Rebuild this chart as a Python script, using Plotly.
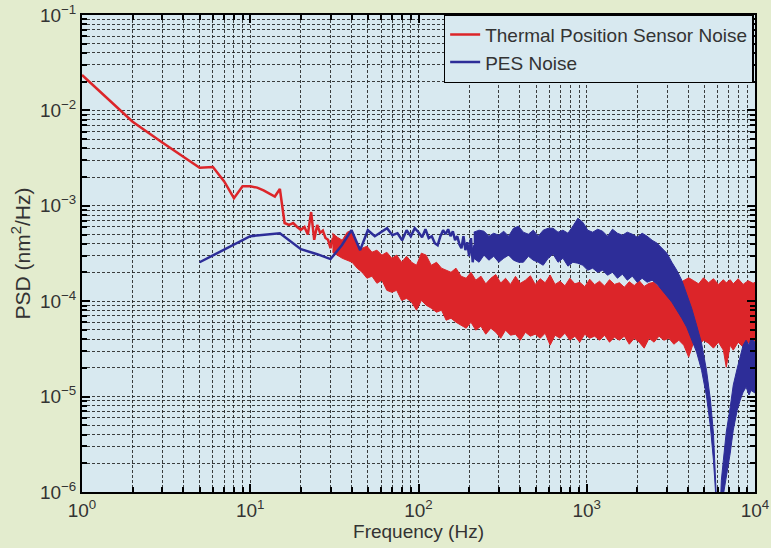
import plotly.graph_objects as go

# ---- Thermal position sensor noise: low-frequency trace (1 Hz bins) ----
red_f = list(range(1, 35))
red_psd = [2.35e-2, 7.6e-3, 4.6e-3, 3.3e-3, 2.5e-3, 2.55e-3, 1.8e-3, 1.2e-3,
           1.6e-3, 1.6e-3, 1.55e-3, 1.45e-3, 1.35e-3, 1.25e-3, 1.5e-3, 6.6e-4,
           6.3e-4, 6.6e-4, 6.0e-4, 5.6e-4, 6.0e-4, 5.0e-4, 8.6e-4, 4.4e-4,
           6.3e-4, 5.2e-4, 5.5e-4, 4.6e-4, 4.4e-4, 3.6e-4, 4.6e-4, 3.7e-4,
           4.2e-4, 3.5e-4]

# ---- Thermal noise, dense part: upper / lower envelope of the spectrum ----
red_band_f = [30.8, 32.9, 35.2, 37.7, 40.3, 43.2, 46.2, 49.4, 52.9, 56.6,
              60.6, 64.8, 69.4, 74.2, 79.4, 85, 91, 97.3, 104, 111,
              119, 128, 137, 146, 156, 167, 179, 192, 205, 219,
              235, 251, 269, 288, 308, 329, 352, 377, 403, 432,
              462, 494, 529, 566, 606, 648, 694, 742, 794, 850,
              909, 973, 1041, 1114, 1192, 1276, 1365, 1461, 1563, 1673,
              1790, 1916, 2050, 2194, 2348, 2512, 2688, 2876, 3078, 3294,
              3525, 3772, 4036, 4319, 4622, 4946, 5293, 5664, 6061, 6486,
              6748, 7123, 7426, 7943, 8498, 9102, 9740, 10000]
red_band_hi = [5.16e-4, 4.69e-4, 4.36e-4, 5.29e-4, 5.55e-4, 3.86e-4, 3.59e-4, 3.77e-4, 3.26e-4, 3.43e-4,
               3.04e-4, 3.26e-4, 2.82e-4, 3.04e-4, 2.56e-4, 2.96e-4, 2.56e-4, 2.38e-4, 3.19e-4, 3.04e-4,
               2.38e-4, 2.56e-4, 2.22e-4, 2.11e-4, 2.01e-4, 2.22e-4, 1.83e-4, 1.74e-4, 2.01e-4, 1.66e-4,
               1.83e-4, 1.52e-4, 1.74e-4, 1.90e-4, 1.55e-4, 1.74e-4, 1.50e-4, 1.82e-4, 1.54e-4, 1.66e-4,
               1.85e-4, 1.50e-4, 1.72e-4, 1.56e-4, 1.88e-4, 1.50e-4, 1.62e-4, 1.45e-4, 1.74e-4, 1.52e-4,
               1.58e-4, 1.42e-4, 1.70e-4, 1.49e-4, 1.62e-4, 1.44e-4, 1.68e-4, 1.50e-4, 1.56e-4, 1.40e-4,
               1.60e-4, 1.46e-4, 1.64e-4, 1.43e-4, 1.54e-4, 1.58e-4, 1.40e-4, 1.47e-4, 1.54e-4, 1.44e-4,
               1.54e-4, 1.66e-4, 1.76e-4, 1.64e-4, 1.52e-4, 1.76e-4, 1.56e-4, 1.72e-4, 1.50e-4, 1.68e-4,
               1.56e-4, 1.68e-4, 1.52e-4, 1.72e-4, 1.50e-4, 1.64e-4, 1.54e-4, 1.58e-4]
red_band_lo = [3.26e-4, 3.04e-4, 2.82e-4, 2.69e-4, 2.56e-4, 2.22e-4, 2.01e-4, 1.74e-4, 1.83e-4, 1.54e-4,
               1.66e-4, 1.30e-4, 1.24e-4, 1.30e-4, 1.02e-4, 1.07e-4, 9.76e-5, 8.05e-5, 1.02e-4, 9.08e-5,
               8.45e-5, 7.67e-5, 8.05e-5, 6.32e-5, 6.63e-5, 6.02e-5, 5.60e-5, 5.21e-5, 6.02e-5, 4.97e-5,
               5.47e-5, 4.51e-5, 5.21e-5, 4.73e-5, 4.09e-5, 4.97e-5, 4.40e-5, 4.51e-5, 3.90e-5, 4.73e-5,
               4.30e-5, 4.51e-5, 4.09e-5, 4.62e-5, 3.46e-5, 4.40e-5, 4.09e-5, 4.62e-5, 3.90e-5, 4.30e-5,
               3.72e-5, 4.51e-5, 4.09e-5, 4.30e-5, 3.90e-5, 4.40e-5, 3.72e-5, 4.19e-5, 3.90e-5, 4.30e-5,
               3.54e-5, 4.09e-5, 3.72e-5, 3.22e-5, 4.09e-5, 3.72e-5, 4.30e-5, 3.90e-5, 4.09e-5, 3.54e-5,
               3.90e-5, 3.46e-5, 2.59e-5, 3.72e-5, 3.46e-5, 3.90e-5, 3.63e-5, 3.22e-5, 3.72e-5, 3.07e-5,
               2.03e-5, 3.46e-5, 3.07e-5, 3.72e-5, 3.30e-5, 3.63e-5, 3.90e-5, 3.80e-5]

# ---- PES noise: low-frequency trace (5 Hz bins) ----
pes_f = list(range(5, 220, 5))
pes_psd = [2.56e-4, 4.80e-4, 5.16e-4, 3.51e-4, 3.11e-4, 2.76e-4, 3.86e-4, 5.55e-4,
           3.43e-4, 5.55e-4, 4.80e-4, 5.29e-4, 5.82e-4, 4.92e-4, 5.16e-4, 4.36e-4,
           5.55e-4, 4.80e-4, 5.82e-4, 5.29e-4, 4.69e-4, 5.68e-4, 4.58e-4, 4.80e-4,
           4.06e-4, 3.86e-4, 4.80e-4, 5.55e-4, 5.04e-4, 5.68e-4, 4.80e-4, 5.42e-4,
           4.36e-4, 4.80e-4, 3.96e-4, 3.59e-4, 4.80e-4, 3.43e-4, 4.15e-4, 2.96e-4,
           4.58e-4, 2.56e-4, 3.86e-4]

# ---- PES noise, dense part: upper / lower envelope of the spectrum ----
pes_band_f = [213, 229, 245, 262, 280, 300, 321, 343, 367, 393,
              420, 450, 481, 515, 551, 590, 631, 675, 722, 773,
              827, 885, 947, 1014, 1084, 1161, 1242, 1329, 1422, 1522,
              1629, 1742, 1865, 1995, 2134, 2284, 2444, 2616, 2799, 2995,
              3205, 3429, 3670, 3927, 4202, 4497, 4812, 5149, 5435, 5662,
              5818, 5977, 6141, 6310, 6483, 6748, 7123, 7426, 7839, 8166,
              8498, 8850, 9220, 9466, 10000]
pes_band_hi = [5.29e-4, 5.55e-4, 5.42e-4, 4.80e-4, 5.16e-4, 4.92e-4, 5.42e-4, 4.80e-4, 5.82e-4, 6.11e-4,
               5.29e-4, 5.04e-4, 5.55e-4, 4.80e-4, 5.55e-4, 5.82e-4, 5.82e-4, 5.29e-4, 5.55e-4, 5.16e-4,
               6.11e-4, 7.41e-4, 6.73e-4, 5.55e-4, 5.29e-4, 5.68e-4, 5.42e-4, 4.80e-4, 5.68e-4, 5.16e-4,
               4.92e-4, 5.29e-4, 5.04e-4, 4.69e-4, 5.16e-4, 4.80e-4, 4.36e-4, 4.06e-4, 3.59e-4, 3.19e-4,
               2.56e-4, 2.11e-4, 1.66e-4, 1.21e-4, 8.45e-5, 5.60e-5, 3.63e-5, 1.89e-5, 9.2e-6, 4.14e-6,
               1.69e-6, 5.1e-7, 4.0e-7, 1.33e-6, 2.15e-6, 4.24e-6, 7.74e-6, 1.32e-5, 1.98e-5, 2.59e-5,
               3.46e-5, 3.90e-5, 3.46e-5, 4.09e-5, 3.72e-5]
pes_band_lo = [2.82e-4, 2.56e-4, 3.04e-4, 2.69e-4, 2.96e-4, 2.56e-4, 2.82e-4, 3.04e-4, 2.69e-4, 2.56e-4,
               2.56e-4, 2.96e-4, 2.69e-4, 2.56e-4, 2.38e-4, 2.82e-4, 3.11e-4, 2.56e-4, 2.82e-4, 2.33e-4,
               2.56e-4, 2.50e-4, 2.38e-4, 2.11e-4, 2.22e-4, 2.01e-4, 2.11e-4, 1.87e-4, 2.01e-4, 1.74e-4,
               1.92e-4, 1.66e-4, 1.83e-4, 1.58e-4, 1.74e-4, 1.58e-4, 1.66e-4, 1.51e-4, 1.30e-4, 1.13e-4,
               9.76e-5, 8.05e-5, 6.63e-5, 5.34e-5, 3.90e-5, 2.92e-5, 1.89e-5, 1.01e-5, 4.8e-6, 2.15e-6,
               1.05e-6, 1.9e-7, 1.5e-7, 5.1e-7, 9.3e-7, 1.33e-6, 2.55e-6, 4.45e-6, 7.2e-6, 9.2e-6,
               1.11e-5, 1.26e-5, 1.04e-5, 1.16e-5, 1.09e-5]

RED = "#dc2529"
BLUE = "#2d2d98"
TEXT = "#333333"
GRID = "rgba(30,30,30,0.85)"
FONT = "Liberation Sans, Arial, sans-serif"

x_ticks = [1, 10, 100, 1000, 10000]
x_labels = ["10<sup>0</sup>", "10<sup>1</sup>", "10<sup>2</sup>", "10<sup>3</sup>", "10<sup>4</sup>"]
y_ticks = [1e-6, 1e-5, 1e-4, 1e-3, 1e-2, 1e-1]
y_labels = ["10<sup>\u22126</sup>", "10<sup>\u22125</sup>", "10<sup>\u22124</sup>",
            "10<sup>\u22123</sup>", "10<sup>\u22122</sup>", "10<sup>\u22121</sup>"]

x_minor = [m * 10 ** k for k in range(4) for m in range(2, 10)]
y_minor = [m * 10.0 ** k for k in range(-6, -1) for m in range(2, 10)]

fig = go.Figure()

fig.add_trace(go.Scatter(x=red_f, y=red_psd, mode="lines", name="Thermal Position Sensor Noise",
                         legendgroup="thermal", line=dict(color=RED, width=2.5)))
fig.add_trace(go.Scatter(x=red_band_f + red_band_f[::-1], y=red_band_hi + red_band_lo[::-1],
                         mode="lines", fill="toself", fillcolor=RED, legendgroup="thermal",
                         line=dict(color=RED, width=1), showlegend=False, hoverinfo="skip"))
fig.add_trace(go.Scatter(x=pes_f, y=pes_psd, mode="lines", name="PES Noise",
                         legendgroup="pes", line=dict(color=BLUE, width=2.5)))
fig.add_trace(go.Scatter(x=pes_band_f + pes_band_f[::-1], y=pes_band_hi + pes_band_lo[::-1],
                         mode="lines", fill="toself", fillcolor=BLUE, legendgroup="pes",
                         line=dict(color=BLUE, width=1), showlegend=False, hoverinfo="skip"))

axis_common = dict(
    type="log",
    showline=True, linecolor="black", linewidth=2, mirror="ticks",
    ticks="inside", ticklen=8, tickwidth=1.5, tickcolor="black",
    showgrid=True, gridcolor=GRID, gridwidth=1, griddash="3px,2px",
    zeroline=False, ticklabeloverflow="allow",
    tickfont=dict(family=FONT, size=19, color=TEXT),
)

fig.update_xaxes(
    range=[0, 4], tickmode="array", tickvals=x_ticks, ticktext=x_labels,
    minor=dict(tickmode="array", tickvals=x_minor, ticks="inside", ticklen=5,
               tickcolor="black", showgrid=True, gridcolor=GRID, gridwidth=1,
               griddash="3px,2px"),
    title=dict(text="Frequency (Hz)", standoff=3,
               font=dict(family=FONT, size=19, color=TEXT)),
    **axis_common,
)
fig.update_yaxes(
    range=[-6, -1], tickmode="array", tickvals=y_ticks, ticktext=y_labels,
    minor=dict(tickmode="array", tickvals=y_minor, ticks="inside", ticklen=5,
               tickcolor="black", showgrid=True, gridcolor=GRID, gridwidth=1,
               griddash="3px,2px"),
    title=dict(text="PSD (nm<sup>2</sup>/Hz)", standoff=4,
               font=dict(family=FONT, size=21, color=TEXT)),
    **axis_common,
)

fig.update_layout(
    width=771, height=548,
    margin=dict(l=82, r=16, t=15, b=56, autoexpand=False),
    paper_bgcolor="#e3ecce",
    plot_bgcolor="#d8e9f0",
    font=dict(family=FONT, size=19, color=TEXT),
    showlegend=True,
    legend=dict(x=0.998, y=1.002, xanchor="right", yanchor="top",
                bgcolor="#d8e9f0", bordercolor="black", borderwidth=1.5,
                font=dict(family=FONT, size=19, color=TEXT), tracegroupgap=0,
                itemwidth=30),
)

fig.write_html("out.html")
